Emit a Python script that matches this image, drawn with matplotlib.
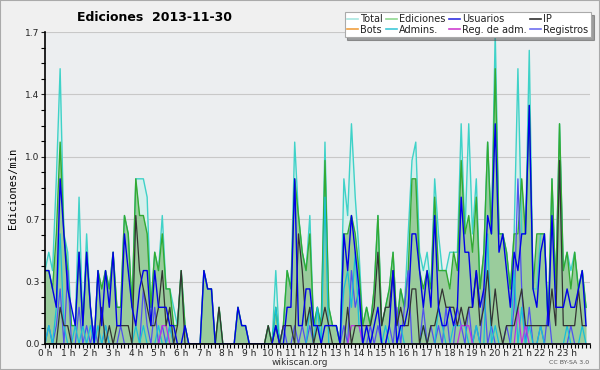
import numpy as np
import matplotlib
matplotlib.use("Agg")
import matplotlib.pyplot as plt
from matplotlib.ticker import MultipleLocator, FixedLocator

# -----------------------------
# Data: edits per 10-minute bin (counts), 144 bins = 24 h
# -----------------------------
total = [4, 5, 4, 9, 15, 6, 5, 1, 1, 8, 1, 6, 2, 0, 4, 3, 4, 3, 5, 2, 2, 7, 6, 2,
         9, 9, 9, 8, 2, 5, 4, 7, 3, 3, 2, 1, 4, 1, 0, 0, 0, 0, 4, 3, 3, 0, 2, 0,
         0, 0, 0, 2, 1, 1, 0, 0, 0, 0, 0, 1, 0, 4, 0, 1, 4, 3, 11, 7, 5, 4, 7, 1,
         2, 1, 11, 2, 1, 1, 0, 9, 7, 12, 8, 5, 1, 2, 1, 3, 7, 1, 2, 3, 5, 1, 3, 2,
         6, 10, 11, 5, 4, 5, 3, 9, 6, 4, 4, 5, 5, 5, 12, 6, 12, 6, 9, 3, 5, 11, 6, 17,
         6, 6, 5, 3, 6, 15, 6, 6, 16, 3, 3, 6, 6, 1, 9, 3, 12, 4, 5, 4, 5, 3, 4, 2]
ediciones = [4, 4, 3, 6, 11, 6, 4, 1, 1, 5, 1, 5, 2, 0, 4, 3, 4, 3, 5, 2, 2, 7, 6, 2,
             9, 7, 7, 6, 2, 5, 4, 6, 3, 3, 1, 1, 4, 1, 0, 0, 0, 0, 4, 3, 3, 0, 2, 0,
             0, 0, 0, 2, 1, 1, 0, 0, 0, 0, 0, 1, 0, 2, 0, 1, 4, 3, 9, 7, 5, 4, 6, 1,
             2, 1, 10, 2, 1, 1, 0, 6, 6, 7, 6, 4, 1, 2, 1, 3, 7, 1, 2, 3, 5, 1, 3, 2,
             4, 9, 9, 4, 3, 4, 3, 8, 4, 4, 4, 3, 5, 4, 10, 6, 7, 5, 8, 3, 5, 11, 6, 15,
             6, 6, 5, 3, 6, 6, 9, 6, 13, 3, 6, 6, 6, 1, 9, 3, 12, 4, 5, 3, 5, 3, 4, 2]
usuarios = [4, 4, 3, 2, 9, 6, 3, 2, 1, 5, 1, 5, 2, 0, 4, 1, 4, 2, 5, 1, 1, 6, 4, 2,
            1, 3, 4, 4, 1, 4, 2, 2, 2, 1, 1, 0, 0, 1, 0, 0, 0, 0, 4, 3, 3, 0, 0, 0,
            0, 0, 0, 2, 1, 1, 0, 0, 0, 0, 0, 0, 0, 1, 0, 0, 2, 2, 9, 1, 1, 3, 3, 1,
            1, 0, 1, 1, 1, 1, 0, 6, 4, 7, 5, 3, 0, 1, 0, 1, 2, 0, 0, 1, 4, 0, 1, 1,
            2, 6, 6, 4, 2, 4, 2, 7, 2, 1, 1, 2, 1, 2, 8, 5, 5, 2, 4, 2, 3, 7, 6, 12,
            5, 6, 4, 2, 5, 4, 6, 6, 13, 3, 2, 5, 6, 1, 7, 2, 2, 2, 3, 2, 2, 3, 4, 1]
ip = [0, 0, 0, 0, 2, 1, 1, 0, 0, 0, 0, 0, 0, 0, 0, 2, 0, 1, 0, 1, 1, 1, 1, 0,
      7, 4, 3, 2, 1, 1, 2, 4, 1, 2, 0, 1, 4, 0, 0, 0, 0, 0, 0, 0, 0, 0, 2, 0,
      0, 0, 0, 0, 0, 0, 0, 0, 0, 0, 0, 1, 0, 1, 0, 1, 1, 1, 0, 6, 4, 1, 2, 0,
      1, 1, 2, 1, 0, 0, 0, 0, 2, 0, 1, 1, 1, 1, 1, 2, 5, 1, 2, 2, 4, 1, 2, 1,
      1, 3, 3, 0, 1, 0, 1, 1, 2, 3, 2, 2, 2, 1, 2, 1, 2, 2, 4, 1, 2, 4, 1, 3,
      1, 0, 1, 1, 1, 2, 3, 1, 1, 1, 1, 1, 1, 1, 3, 1, 10, 1, 1, 1, 1, 3, 1, 1]
admins = [0, 1, 0, 2, 6, 1, 0, 0, 1, 0, 1, 0, 1, 0, 1, 0, 1, 0, 0, 0, 0, 0, 0, 0,
          1, 0, 1, 0, 0, 0, 1, 0, 0, 1, 0, 0, 0, 0, 0, 0, 0, 0, 0, 0, 0, 0, 0, 0,
          0, 0, 0, 0, 0, 0, 0, 0, 0, 0, 0, 0, 0, 2, 0, 0, 0, 0, 0, 0, 0, 0, 2, 0,
          2, 0, 8, 0, 0, 0, 0, 3, 4, 2, 5, 1, 0, 0, 0, 0, 0, 0, 1, 0, 0, 0, 1, 0,
          0, 0, 0, 0, 1, 0, 0, 0, 2, 1, 0, 0, 1, 1, 1, 1, 0, 0, 1, 0, 0, 6, 0, 1,
          0, 0, 0, 0, 4, 0, 2, 0, 1, 0, 0, 1, 0, 0, 0, 0, 0, 0, 1, 0, 0, 0, 1, 0]
registros = [0, 1, 0, 1, 3, 0, 4, 0, 0, 2, 0, 1, 0, 1, 0, 0, 1, 0, 0, 0, 1, 0, 0, 0,
             0, 0, 3, 1, 0, 2, 0, 1, 0, 1, 0, 0, 0, 0, 0, 0, 0, 0, 0, 0, 0, 0, 0, 0,
             0, 0, 0, 0, 0, 0, 0, 0, 0, 0, 0, 0, 0, 0, 0, 1, 0, 0, 1, 0, 1, 0, 1, 0,
             0, 0, 0, 0, 0, 0, 0, 1, 0, 4, 2, 3, 0, 0, 1, 0, 1, 0, 0, 1, 0, 2, 0, 2,
             4, 0, 0, 0, 2, 0, 1, 0, 1, 0, 2, 0, 0, 2, 1, 0, 2, 0, 1, 0, 3, 0, 1, 0,
             0, 0, 1, 0, 2, 9, 3, 0, 2, 0, 0, 1, 0, 2, 0, 0, 0, 0, 0, 1, 0, 0, 0, 0]
reg_adm = [0] * 30 + [0, 1, 1, 0, 0, 0] + [0] * 45 + [1, 1, 1] + [0] * 26 + \
          [1, 1, 1] + [0] * 12 + [2, 0, 1] + [0] * 16

legend_names = ["Total", "Bots", "Ediciones", "Admins.", "Usuarios",
                "Reg. de adm.", "IP", "Registros"]
hour_labels = ["%d h" % h for h in range(24)]

# per-minute rates, x in hours
hours = np.arange(len(total)) / 6.0
rate = lambda s: np.array(s) / 10.0

fig = plt.figure(figsize=(6, 3.7), dpi=100, facecolor="#f0f0f0")
ax = fig.add_axes([0.075, 0.0703, 0.908, 0.8432], facecolor="#eceef0")

ax.fill_between(hours, rate(total), color="#d6efec", lw=0)
ax.plot(hours, rate(total), color="#3fd2c8", lw=1.0)
ax.fill_between(hours, rate(ediciones), color="#94c994", alpha=0.9, lw=0)
ax.plot(hours, rate(ediciones), color="#33aa33", lw=1.0)
ax.plot(hours, rate(registros), color="#5050f0", lw=0.9)
ax.plot(hours, rate(admins), color="#18c0d8", lw=0.9)
ax.plot(hours, rate(reg_adm), color="#c030e0", lw=0.9)
ax.plot(hours, rate(ip), color="#333333", lw=0.9)
ax.plot(hours, rate(usuarios), color="#0000e8", lw=1.0)

ax.set_xlim(0, 24)
ax.set_ylim(0, 1.7)
yt = np.linspace(0, 1.7, 6)
ax.yaxis.set_major_locator(FixedLocator(yt))
ax.set_yticklabels(["%.1f" % v for v in yt])
ax.yaxis.set_minor_locator(MultipleLocator(0.085))
ax.set_xticks(range(24))
ax.set_xticklabels(hour_labels)
ax.xaxis.set_minor_locator(MultipleLocator(1 / 6.0))
ax.tick_params(axis="both", labelsize=6.5, colors="#222222", length=3, width=0.8)
ax.tick_params(axis="both", which="minor", length=3, width=0.8)
ax.tick_params(axis="x", pad=0.5)
ax.tick_params(axis="y", pad=1)
ax.grid(axis="y", color="#c8c8c8", lw=0.8)
ax.set_axisbelow(True)
for side in ["top", "right"]:
    ax.spines[side].set_visible(False)
ax.spines["left"].set_linewidth(1.2)
ax.spines["bottom"].set_linewidth(1.2)

ax.set_ylabel("Ediciones/min", family="DejaVu Sans Mono", fontsize=7.5, labelpad=5)

# legend (column-major order for 4 columns)
colors = ["#a8e6e0", "#f0a040", "#90d890", "#40c8d8", "#3030e0", "#d040d0",
          "#303030", "#7070f0"]
handles = [plt.Line2D([], [], color=c, lw=1.2) for c in colors]
leg = fig.legend(handles, legend_names, ncol=4, loc="upper right",
                 bbox_to_anchor=(0.985, 0.968), prop={"size": 7}, frameon=True,
                 fancybox=False, shadow=True, handlelength=1.1, handletextpad=0.25,
                 columnspacing=0.35, labelspacing=0.05, borderpad=0.25,
                 borderaxespad=0)
leg.get_frame().set_edgecolor("#aaaaaa")
leg.get_frame().set_linewidth(0.8)
for t in leg.get_texts():
    t.set_color("#222222")

fig.text(0.258, 0.952, "Ediciones  2013-11-30", fontsize=9, fontweight="bold",
         ha="center", va="center")
fig.text(0.5, 0.02, "wikiscan.org", fontsize=6.5, ha="center", va="center",
         color="#333333")
fig.text(0.982, 0.02, "CC BY-SA 3.0", fontsize=4.5, ha="right", va="center",
         color="#555555")

fig.patches.append(plt.Rectangle((0, 0), 1, 1, transform=fig.transFigure,
                                 fill=False, edgecolor="#aaaaaa", lw=1.5))

fig.savefig("out.png", dpi=100, facecolor=fig.get_facecolor())
